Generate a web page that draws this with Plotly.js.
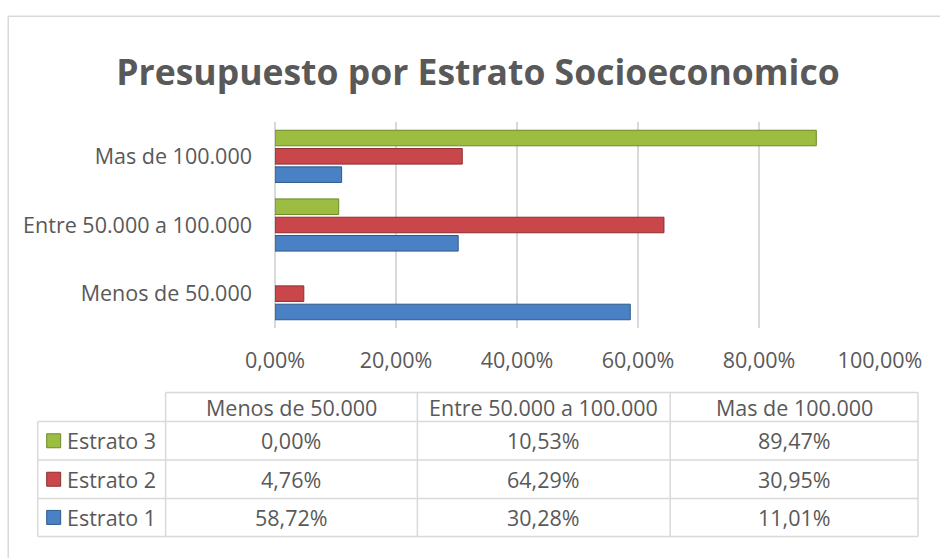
<!DOCTYPE html>
<html>
<head>
<meta charset="utf-8">
<script src="https://cdn.plot.ly/plotly-3.0.1.min.js"></script>
<style>html,body{margin:0;padding:0;background:#fff;}#chart{width:940px;height:558px;}</style>
</head>
<body>
<div id="chart"></div>
<script>
const categories = ['Menos de 50.000', 'Entre 50.000 a 100.000', 'Mas de 100.000'];
const seriesNames = ['Estrato 1', 'Estrato 2', 'Estrato 3'];
const estrato1 = [58.72, 30.28, 11.01];
const estrato2 = [4.76, 64.29, 30.95];
const estrato3 = [0.00, 10.53, 89.47];
const xTicks = [0, 20, 40, 60, 80, 100];
const chartTitle = 'Presupuesto por Estrato Socioeconomico';

const seriesValues = [estrato1, estrato2, estrato3];
const fills = ['#4a80c4', '#c9474a', '#9cbd42'];
const lines = ['#2c5a8c', '#8c2e30', '#6a8a26'];
const FONT = 'Open Sans, sans-serif';
const FS = 21.5;
const TXT = '#595959';
const GRID = '#d9d9d9';

const fmt = v => v.toFixed(2).replace('.', ',') + '%';

// plot area in pixels
const L = 274.5, R = 880, T = 122, B = 328.3;
const W = R - L, H = B - T;
const xp = px => (px - L) / W;
const yp = py => (B - py) / H;

const traces = seriesValues.map((vals, i) => ({
  type: 'bar',
  orientation: 'h',
  name: seriesNames[i],
  y: categories,
  x: vals,
  marker: {color: fills[i], line: {color: lines[i], width: vals.map(v => v > 0 ? 1 : 0)}},
  hoverinfo: 'x+name'
}));

const shapes = [];
const annotations = [];
function hline(x0, x1, y) {
  shapes.push({type: 'line', xref: 'paper', yref: 'paper', x0: xp(x0), x1: xp(x1), y0: yp(y), y1: yp(y), line: {color: GRID, width: 1.5}});
}
function vline(x, y0, y1) {
  shapes.push({type: 'line', xref: 'paper', yref: 'paper', x0: xp(x), x1: xp(x), y0: yp(y0), y1: yp(y1), line: {color: GRID, width: 1.5}});
}
function text(str, x, y, anchor) {
  annotations.push({xref: 'paper', yref: 'paper', x: xp(x), y: yp(y), text: str, showarrow: false,
    xanchor: anchor || 'center', yanchor: 'middle', font: {family: FONT, size: FS, color: TXT}});
}

// outer chart frame (top and left edges visible)
hline(7.5, 1000, 16);
vline(7.5, 16, 700);

// data table geometry
const colX = [37, 165, 417, 670, 918];
const rowY = [393, 422, 460.5, 499, 537];
hline(colX[1], colX[4], rowY[0]);
for (let r = 1; r < rowY.length; r++) hline(colX[0], colX[4], rowY[r]);
vline(colX[0], rowY[1], rowY[4]);
for (let c = 1; c < colX.length; c++) vline(colX[c], rowY[0], rowY[4]);

// header
categories.forEach((cat, j) => text(cat, (colX[j + 1] + colX[j + 2]) / 2, (rowY[0] + rowY[1]) / 2));

// rows: Estrato 3 at top, Estrato 1 at bottom
for (let r = 0; r < 3; r++) {
  const si = 2 - r;
  const cy = (rowY[r + 1] + rowY[r + 2]) / 2;
  shapes.push({type: 'rect', xref: 'paper', yref: 'paper', x0: xp(46), x1: xp(60), y0: yp(cy - 7), y1: yp(cy + 7),
    fillcolor: fills[si], line: {color: lines[si], width: 1}});
  text(seriesNames[si], 64, cy, 'left');
  seriesValues[si].forEach((v, j) => text(fmt(v), (colX[j + 1] + colX[j + 2]) / 2, cy));
}

const layout = {
  width: 940, height: 558,
  margin: {l: L, r: 940 - R, t: T, b: 558 - B, pad: 0},
  paper_bgcolor: '#ffffff', plot_bgcolor: '#ffffff',
  separators: ',.',
  barmode: 'group', bargap: 0.2, bargroupgap: 0.15,
  showlegend: false,
  title: {text: '<b>' + chartTitle + '</b>', font: {family: FONT, size: 35.5, color: TXT},
    x: 478 / 940, xref: 'container', xanchor: 'center', y: 1 - 73 / 558, yref: 'container', yanchor: 'middle'},
  xaxis: {range: [0, 100], tickmode: 'array', tickvals: xTicks, ticktext: xTicks.map(fmt),
    showgrid: true, gridcolor: GRID, gridwidth: 1.5, zeroline: true, zerolinecolor: GRID, zerolinewidth: 1.5,
    showline: false, ticks: '', ticklabelstandoff: 17, tickfont: {family: FONT, size: FS, color: TXT}, fixedrange: true},
  yaxis: {type: 'category', categoryorder: 'array', categoryarray: categories,
    showgrid: false, zeroline: false, showline: false, ticks: '', ticklabelstandoff: 22,
    tickfont: {family: FONT, size: FS, color: TXT}, fixedrange: true},
  shapes: shapes,
  annotations: annotations
};

Plotly.newPlot('chart', traces, layout, {displayModeBar: false, staticPlot: true});
</script>
</body>
</html>
